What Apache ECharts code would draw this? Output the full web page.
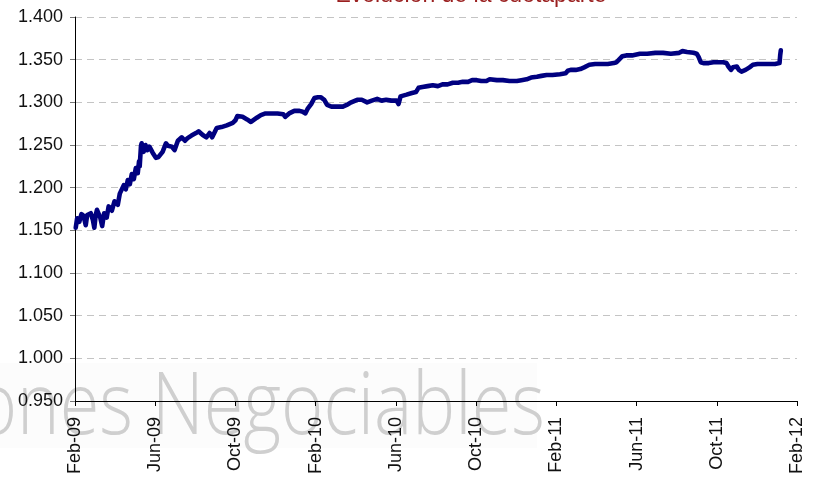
<!DOCTYPE html>
<html>
<head>
<meta charset="utf-8">
<script src="https://cdn.jsdelivr.net/npm/echarts@6/dist/echarts.min.js"></script>
<style>html,body{margin:0;padding:0;background:#fff}#c{width:816px;height:483px}</style>
</head>
<body>
<div id="c"></div>
<script>
const titleText = 'Evolución de la cuotaparte';
const watermarkText = 'ciones Negociables';
const tickLabels = ['Feb-09','Jun-09','Oct-09','Feb-10','Jun-10','Oct-10','Feb-11','Jun-11','Oct-11','Feb-12'];
const dates = [
'2009-02-02','2009-02-04','2009-02-07','2009-02-10','2009-02-13','2009-02-16','2009-02-18','2009-02-23','2009-02-26','2009-02-28',
'2009-03-02','2009-03-04','2009-03-09','2009-03-12','2009-03-15','2009-03-19','2009-03-22','2009-03-27','2009-03-31',
'2009-04-05','2009-04-08','2009-04-11','2009-04-14','2009-04-17','2009-04-20','2009-04-23','2009-04-26','2009-04-29',
'2009-05-02','2009-05-05','2009-05-07','2009-05-08','2009-05-10','2009-05-11','2009-05-14','2009-05-17','2009-05-20','2009-05-23','2009-05-28',
'2009-06-02','2009-06-06','2009-06-12','2009-06-17','2009-06-20','2009-06-26','2009-06-30',
'2009-07-05','2009-07-11','2009-07-16','2009-07-20','2009-07-26',
'2009-08-02','2009-08-06','2009-08-12','2009-08-18','2009-08-23','2009-08-27',
'2009-09-03','2009-09-10','2009-09-18','2009-09-27',
'2009-10-01','2009-10-04','2009-10-12','2009-10-19','2009-10-25',
'2009-11-03','2009-11-09','2009-11-16','2009-11-25',
'2009-12-04','2009-12-13','2009-12-16','2009-12-19','2009-12-22','2009-12-30',
'2010-01-07','2010-01-12','2010-01-16','2010-01-20','2010-01-25','2010-01-30',
'2010-02-04','2010-02-08','2010-02-13','2010-02-17','2010-02-23',
'2010-03-03','2010-03-12','2010-03-18','2010-03-25',
'2010-04-03','2010-04-10','2010-04-18','2010-04-25',
'2010-05-03','2010-05-10','2010-05-17','2010-05-25',
'2010-06-02','2010-06-05','2010-06-08','2010-06-17','2010-06-25',
'2010-07-01','2010-07-05','2010-07-11','2010-07-19','2010-07-27',
'2010-08-04','2010-08-11','2010-08-19','2010-08-27',
'2010-09-04','2010-09-11','2010-09-19','2010-09-25',
'2010-10-02','2010-10-09','2010-10-17','2010-10-22',
'2010-11-02','2010-11-11','2010-11-21',
'2010-12-02','2010-12-09','2010-12-17','2010-12-24',
'2011-01-02','2011-01-09','2011-01-17','2011-01-26',
'2011-02-06','2011-02-14','2011-02-17','2011-02-21','2011-02-28',
'2011-03-07','2011-03-13','2011-03-21','2011-03-30',
'2011-04-09','2011-04-18','2011-04-27',
'2011-05-01','2011-05-06','2011-05-10','2011-05-16','2011-05-25',
'2011-06-06','2011-06-17','2011-06-29',
'2011-07-11','2011-07-23',
'2011-08-05','2011-08-10','2011-08-17','2011-08-27',
'2011-09-01','2011-09-04','2011-09-07','2011-09-11','2011-09-19','2011-09-26',
'2011-10-04','2011-10-11','2011-10-16','2011-10-19','2011-10-23','2011-10-26',
'2011-11-01','2011-11-04','2011-11-08','2011-11-14','2011-11-20','2011-11-25',
'2011-12-02','2011-12-11','2011-12-20','2011-12-29',
'2012-01-05','2012-01-06','2012-01-07'
];
const values = [
1.153,1.164,1.160,1.169,1.167,1.156,1.168,1.170,1.162,1.153,
1.168,1.174,1.165,1.155,1.170,1.165,1.178,1.173,1.184,
1.180,1.193,1.198,1.203,1.198,1.209,1.204,1.216,1.210,
1.223,1.217,1.231,1.225,1.249,1.252,1.242,1.250,1.244,1.248,1.241,
1.235,1.236,1.242,1.252,1.249,1.248,1.244,
1.255,1.259,1.255,1.258,1.261,
1.264,1.266,1.262,1.259,1.264,1.259,
1.270,1.271,1.273,1.276,
1.279,1.284,1.283,1.280,1.277,
1.282,1.285,1.287,1.287,
1.287,1.286,1.283,1.282,1.287,1.290,
1.290,1.289,1.287,1.293,1.298,1.305,
1.306,1.306,1.303,1.297,1.295,
1.295,1.295,1.297,1.300,
1.303,1.303,1.300,1.302,
1.304,1.302,1.303,1.302,
1.302,1.298,1.307,1.309,1.311,
1.312,1.317,1.318,1.319,1.320,
1.319,1.321,1.321,1.323,
1.323,1.324,1.324,1.326,
1.326,1.325,1.325,1.327,
1.326,1.326,1.325,
1.325,1.326,1.327,1.329,
1.330,1.331,1.332,1.332,
1.333,1.334,1.337,1.338,1.338,
1.339,1.341,1.344,1.345,
1.345,1.345,1.346,
1.347,1.351,1.354,1.355,1.355,
1.357,1.357,1.358,
1.358,1.357,
1.358,1.360,1.359,1.358,
1.357,1.353,1.347,1.346,1.346,1.347,
1.347,1.347,1.346,1.342,1.338,1.341,
1.342,1.338,1.336,1.338,1.341,1.344,
1.345,1.345,1.345,1.345,
1.346,1.355,1.361
];

function monthOffset(s) {
  const [y, m, d] = s.split('-').map(Number);
  const dim = new Date(y, m, 0).getDate();
  return (y - 2009) * 12 + (m - 2) + (d - 1) / dim;
}
const seriesData = dates.map((d, i) => [monthOffset(d), values[i]]);

const chart = echarts.init(document.getElementById('c'), null, {renderer: 'canvas'});
const font = '"Liberation Sans", Arial, sans-serif';
chart.setOption({
  animation: false,
  backgroundColor: '#ffffff',
  grid: {left: 75, right: 19, top: 17, bottom: 82, containLabel: false},
  graphic: [
    {type: 'rect', z: -20, silent: true, shape: {x: 0, y: 363, width: 537, height: 85}, style: {fill: 'rgba(0,0,0,0.012)'}},
    {type: 'text', z: -10, silent: true, x: 545, y: 452, scaleX: 0.84, scaleY: 1,
      style: {text: watermarkText, fill: '#cfcfcf', font: '300 86px "Open Sans", sans-serif', textAlign: 'right', textVerticalAlign: 'bottom'}},
    {type: 'text', z: 10, silent: true, x: 471, y: 7,
      style: {text: titleText, fill: '#9a1f1f', font: '23px ' + font, textAlign: 'center', textVerticalAlign: 'bottom'}}
  ],
  xAxis: {
    type: 'value', min: 0, max: 36, interval: 4,
    axisLine: {show: true, onZero: false, lineStyle: {color: '#000', width: 1}},
    axisTick: {show: true, length: 5, lineStyle: {color: '#000'}},
    splitLine: {show: false},
    axisLabel: {
      rotate: 90, margin: 16, color: '#111', fontSize: 18, fontFamily: font,
      formatter: v => tickLabels[Math.round(v / 4)] || ''
    }
  },
  yAxis: {
    type: 'value', min: 0.95, max: 1.4, interval: 0.05,
    axisLine: {show: true, lineStyle: {color: '#000', width: 1}},
    axisTick: {show: true, length: 5, lineStyle: {color: '#777'}},
    splitLine: {show: true, lineStyle: {color: '#c4c4c4', type: [7, 5], width: 1}},
    axisLabel: {
      margin: 12, color: '#111', fontSize: 18, fontFamily: font,
      formatter: v => v.toFixed(3)
    }
  },
  series: [{
    type: 'line', data: seriesData, showSymbol: false, z: 5,
    lineStyle: {color: '#000080', width: 4.6, cap: 'round', join: 'round'}
  }]
});
</script>
</body>
</html>
